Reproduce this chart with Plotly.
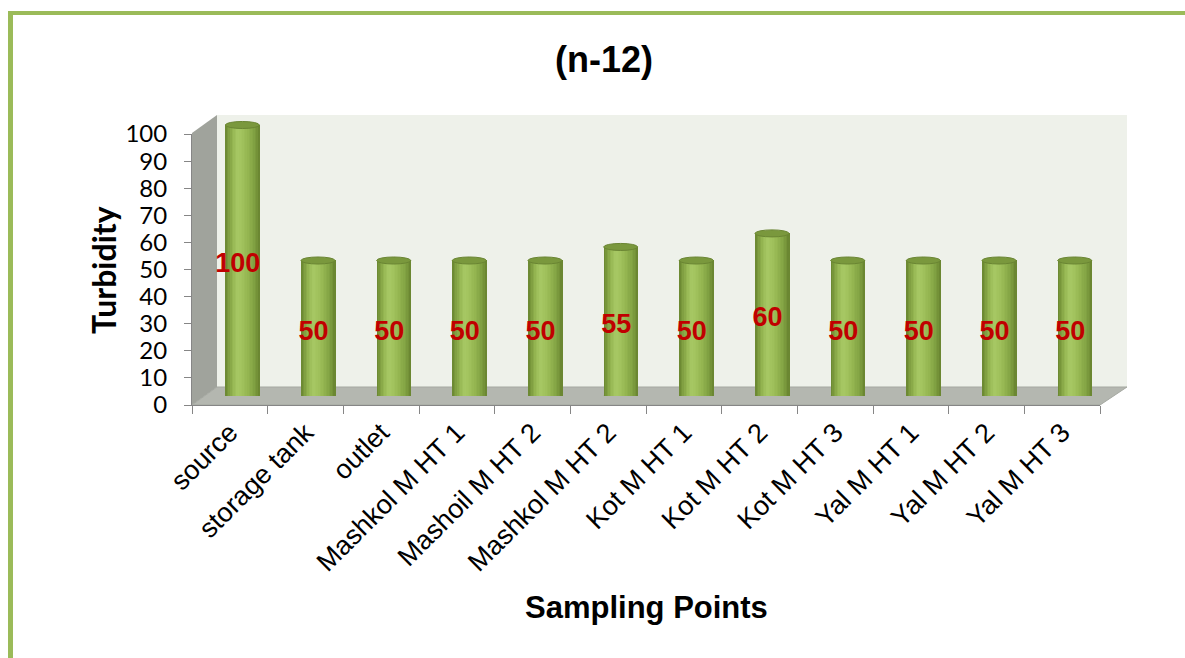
import plotly.graph_objects as go

# ---- data -------------------------------------------------------------
categories = ["source", "storage tank", "outlet", "Mashkol M HT 1", "Mashoil M HT 2",
              "Mashkol M HT 2", "Kot M HT 1", "Kot M HT 2", "Kot M HT 3",
              "Yal M HT 1", "Yal M HT 2", "Yal M HT 3"]
turbidity = [100, 50, 50, 50, 50, 55, 50, 60, 50, 50, 50, 50]
y_ticks = [0, 10, 20, 30, 40, 50, 60, 70, 80, 90, 100]

# ---- geometry of the pseudo-3D box (pixels) ---------------------------
FIG_W, FIG_H = 1185, 658
PL, PR, PT, PB = 192, 1127, 100, 405      # plot area edges
FRONT_R = 1100                            # right end of front x axis
Y100_FRONT = 134                          # value 100 on the front plane
DEPTH_X, DEPTH_Y = 25, 18                 # back wall offset
SCALE = (PB - Y100_FRONT) / 100.0         # px per unit


def px(x):
    return (x - PL) / (PR - PL)


def py(y):
    return (PB - y) / (PB - PT)


def plane(dx, dy, top):
    xd = [px(PL + dx), px(FRONT_R + dx)]
    yd = [py(PB - dy), py(PB - dy - top * SCALE)]
    return xd, yd


x_bar, y_bar = plane(12.5, 9, 105)
x_lab, y_lab = plane(8, 4, 100)

# ---- cylinder shading -------------------------------------------------
BAR_W = 0.45
N_STRIPS = 22
stops = [(0.00, (104, 132, 48)), (0.08, (122, 153, 60)), (0.22, (150, 183, 83)),
         (0.36, (167, 200, 100)), (0.50, (161, 194, 93)), (0.66, (148, 181, 80)),
         (0.82, (131, 164, 68)), (0.93, (116, 146, 56)), (1.00, (102, 130, 47))]


def shade(t):
    for (t0, c0), (t1, c1) in zip(stops[:-1], stops[1:]):
        if t0 <= t <= t1:
            f = (t - t0) / (t1 - t0)
            r, g, b = (round(a + (b_ - a) * f) for a, b_ in zip(c0, c1))
            return f"rgb({r},{g},{b})"
    return "rgb(102,130,47)"


idx = list(range(len(categories)))
fig = go.Figure()

strip_w = BAR_W / N_STRIPS
for k in range(N_STRIPS):
    fig.add_trace(go.Bar(
        x=idx, y=turbidity, xaxis="x2", yaxis="y2",
        width=strip_w * 1.15, offset=-BAR_W / 2 + k * strip_w,
        marker=dict(color=shade((k + 0.5) / N_STRIPS), line=dict(width=0)),
        hoverinfo="skip", showlegend=False,
    ))

# value labels
fig.add_trace(go.Scatter(
    x=idx, y=[v / 2 for v in turbidity], xaxis="x3", yaxis="y3",
    mode="text", text=[str(v) for v in turbidity],
    textfont=dict(family="Arial, Liberation Sans", size=27, color="#C00000", weight="bold"),
    hoverinfo="skip", showlegend=False,
))

# front axes carry ticks and labels
fig.add_trace(go.Scatter(x=categories, y=[None] * len(categories), xaxis="x", yaxis="y",
                         mode="markers", showlegend=False, hoverinfo="skip"))

shapes = []
# back wall, side wall, floor
shapes.append(dict(type="path", xref="paper", yref="paper", layer="below",
                   path=f"M {px(PL+DEPTH_X)} {py(PT+15)} L {px(PR)} {py(PT+15)} "
                        f"L {px(PR)} {py(PB-DEPTH_Y)} L {px(PL+DEPTH_X)} {py(PB-DEPTH_Y)} Z",
                   fillcolor="#EEF1EA", line=dict(width=0)))
shapes.append(dict(type="path", xref="paper", yref="paper", layer="below",
                   path=f"M {px(PL)} {py(Y100_FRONT-1)} L {px(PL+DEPTH_X)} {py(PT+15)} "
                        f"L {px(PL+DEPTH_X)} {py(PB-DEPTH_Y)} L {px(PL)} {py(PB)} Z",
                   fillcolor="#A0A39C", line=dict(width=0)))
shapes.append(dict(type="path", xref="paper", yref="paper", layer="below",
                   path=f"M {px(PL)} {py(PB)} L {px(FRONT_R)} {py(PB)} "
                        f"L {px(PR)} {py(PB-DEPTH_Y)} L {px(PL+DEPTH_X)} {py(PB-DEPTH_Y)} Z",
                   fillcolor="#B4B7B0", line=dict(color="#A5A8A1", width=1)))

# cylinder bottoms and tops
CAP = 1.3
for i, v in zip(idx, turbidity):
    shapes.append(dict(type="circle", xref="x2", yref="y2", layer="below",
                       x0=i - BAR_W / 2, x1=i + BAR_W / 2, y0=-CAP, y1=CAP,
                       fillcolor="#86A646", line=dict(width=0)))
for i, v in zip(idx, turbidity):
    shapes.append(dict(type="circle", xref="x2", yref="y2", layer="above",
                       x0=i - BAR_W / 2, x1=i + BAR_W / 2, y0=v - CAP, y1=v + CAP,
                       fillcolor="#7A983D", line=dict(color="#6A8533", width=1)))

# green frame lines
frame = "#9BBB59"
shapes.append(dict(type="rect", xref="paper", yref="paper", layer="above",
                   x0=px(8), x1=px(13), y0=py(11), y1=py(FIG_H + 10),
                   fillcolor=frame, line=dict(width=0)))
shapes.append(dict(type="rect", xref="paper", yref="paper", layer="above",
                   x0=px(8), x1=px(FIG_W + 10), y0=py(11), y1=py(15),
                   fillcolor=frame, line=dict(width=0)))

axis_grey = "#868686"
fig.update_layout(
    width=FIG_W, height=FIG_H,
    margin=dict(l=PL, r=FIG_W - PR, t=PT, b=FIG_H - PB, autoexpand=False),
    paper_bgcolor="white", plot_bgcolor="rgba(0,0,0,0)",
    barmode="overlay", bargap=0,
    shapes=shapes,
    title=dict(text="<b>(n-12)</b>", x=604 / FIG_W, xref="container", xanchor="center",
               y=1 - 59 / FIG_H, yref="container", yanchor="middle",
               font=dict(family="Arial, Liberation Sans", size=36, color="black")),
    xaxis=dict(domain=[0, px(FRONT_R)], type="category", categoryarray=categories,
               range=[-0.5, len(categories) - 0.5], tickson="boundaries",
               ticks="outside", ticklen=8, tickcolor=axis_grey, tickwidth=1,
               showline=True, linecolor=axis_grey, linewidth=1, showgrid=False,
               tickangle=-45, anchor="y",
               tickfont=dict(family="Arial, Liberation Sans", size=27, color="black")),
    yaxis=dict(domain=[0, py(Y100_FRONT)], range=[0, 100], tickvals=y_ticks,
               ticks="outside", ticklen=7, tickcolor=axis_grey, tickwidth=1,
               showline=True, linecolor=axis_grey, linewidth=1, showgrid=False,
               zeroline=False, anchor="x", ticklabelstandoff=12,
               tickfont=dict(family="Lato", size=24, color="black")),
    xaxis2=dict(domain=x_bar, range=[-0.5, len(categories) - 0.5], visible=False,
                anchor="y2"),
    yaxis2=dict(domain=y_bar, range=[0, 105], visible=False, anchor="x2"),
    xaxis3=dict(domain=x_lab, range=[-0.5, len(categories) - 0.5], visible=False,
                anchor="y3"),
    yaxis3=dict(domain=y_lab, range=[0, 100], visible=False, anchor="x3"),
    annotations=[
        dict(text="<b>Turbidity</b>", xref="paper", yref="paper", x=px(103), y=py(270),
             textangle=-90, showarrow=False, xanchor="center", yanchor="middle",
             font=dict(family="Lato", size=32, color="black")),
        dict(text="<b>Sampling Points</b>", xref="paper", yref="paper", x=px(646), y=py(607),
             showarrow=False, xanchor="center", yanchor="middle",
             font=dict(family="Arial, Liberation Sans", size=31, color="black")),
    ],
)

fig.write_html("out.html")
